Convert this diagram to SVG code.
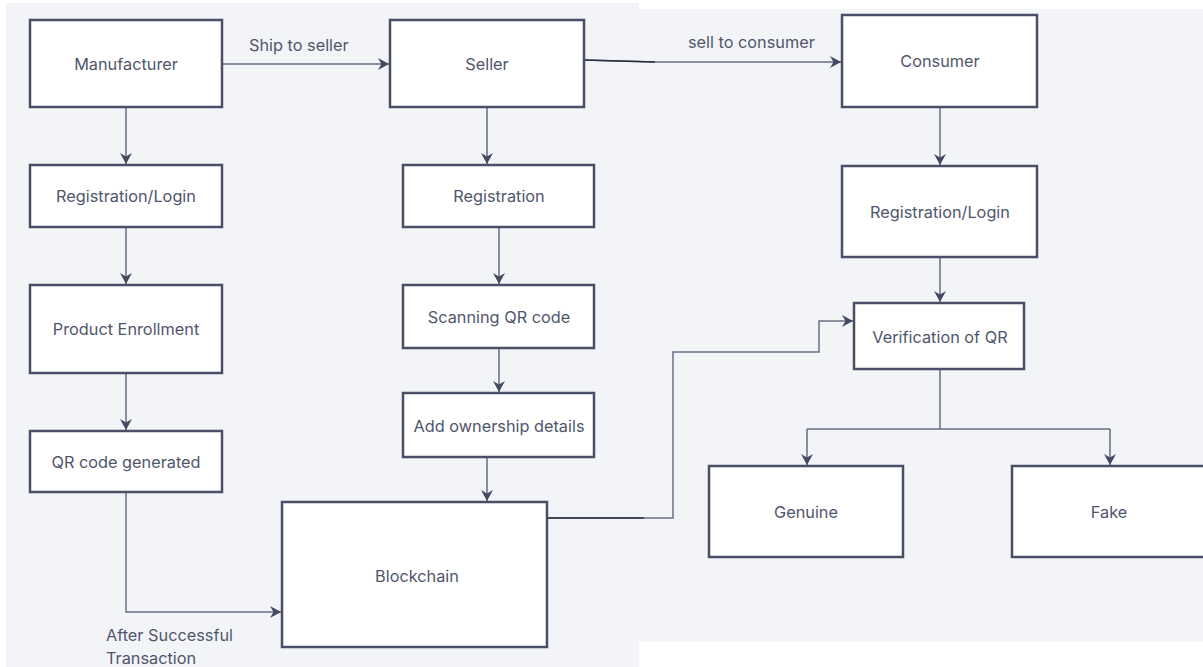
<svg xmlns="http://www.w3.org/2000/svg" width="1203" height="667" viewBox="0 0 1203 667">
<style>
.bg{fill:#f3f4f8}
.box{fill:#fff;stroke:#4a4e66;stroke-width:2.5}
.lbl{font-family:Inter,"Noto Sans",sans-serif;font-size:16.3px;fill:#4f566b;text-anchor:middle;dominant-baseline:central}
.elbl{font-family:Inter,"Noto Sans",sans-serif;font-size:16.3px;fill:#4f566b}
.con{fill:none;stroke:#686d85;stroke-width:1.5}
.dark{fill:none;stroke:#2a2d3a;stroke-width:1.5}
</style>
<defs>
<marker id="ah" markerWidth="14" markerHeight="14" refX="11" refY="6" orient="auto" markerUnits="userSpaceOnUse">
<path d="M0,0 L11,6 L0,12 L3.5,6 Z" fill="#444a62"/>
</marker>
</defs>
<rect width="1203" height="667" fill="#ffffff"/>
<rect class="bg" x="6" y="3" width="633" height="664"/>
<rect class="bg" x="639" y="9" width="564" height="633"/>

<g id="connectors">
<path class="con" d="M222,64 H389" marker-end="url(#ah)"/>
<path class="con" d="M584,60 L655,62 H841" marker-end="url(#ah)"/>
<path class="dark" d="M584,60 L655,62"/>
<path class="con" d="M126,107 V164" marker-end="url(#ah)"/>
<path class="con" d="M126,227 V284" marker-end="url(#ah)"/>
<path class="con" d="M126,373 V430" marker-end="url(#ah)"/>
<path class="con" d="M126,492 V612 H281" marker-end="url(#ah)"/>
<path class="con" d="M487,107 V164" marker-end="url(#ah)"/>
<path class="con" d="M499,227 V284" marker-end="url(#ah)"/>
<path class="con" d="M499,348 V392" marker-end="url(#ah)"/>
<path class="con" d="M487,457 V501" marker-end="url(#ah)"/>
<path class="con" d="M547,518 H673 V352 H819 V321 H853" marker-end="url(#ah)"/>
<path class="dark" d="M547,518 H644"/>
<path class="con" d="M940,107 V165" marker-end="url(#ah)"/>
<path class="con" d="M940,257 V302" marker-end="url(#ah)"/>
<path class="con" d="M940,369 V429"/>
<path class="con" d="M807,429 H1110"/>
<path class="con" d="M807,429 V465" marker-end="url(#ah)"/>
<path class="con" d="M1110,429 V465" marker-end="url(#ah)"/>
<text class="elbl" x="249" y="51">Ship to seller</text>
<text class="elbl" x="688" y="48">sell to consumer</text>
<text class="elbl" x="106" y="641">After Successful</text>
<text class="elbl" x="106" y="664">Transaction</text>
</g>

<g id="manufacturer"><rect class="box" x="30" y="20" width="192" height="87"/><text class="lbl" x="126" y="64">Manufacturer</text></g>
<g id="m-registration"><rect class="box" x="30" y="165" width="192" height="62"/><text class="lbl" x="126" y="196">Registration/Login</text></g>
<g id="product-enrollment"><rect class="box" x="30" y="285" width="192" height="88"/><text class="lbl" x="126" y="329">Product Enrollment</text></g>
<g id="qr-generated"><rect class="box" x="30" y="431" width="192" height="61"/><text class="lbl" x="126" y="462">QR code generated</text></g>

<g id="seller"><rect class="box" x="390" y="20" width="194" height="87"/><text class="lbl" x="487" y="64">Seller</text></g>
<g id="s-registration"><rect class="box" x="403" y="165" width="191" height="62"/><text class="lbl" x="499" y="196">Registration</text></g>
<g id="scanning"><rect class="box" x="403" y="285" width="191" height="63"/><text class="lbl" x="499" y="317">Scanning QR code</text></g>
<g id="ownership"><rect class="box" x="403" y="393" width="191" height="64"/><text class="lbl" x="499" y="426">Add ownership details</text></g>
<g id="blockchain"><rect class="box" x="282" y="502" width="265" height="145"/><text class="lbl" x="417" y="576">Blockchain</text></g>

<g id="consumer"><rect class="box" x="842" y="15" width="195" height="92"/><text class="lbl" x="940" y="61">Consumer</text></g>
<g id="c-registration"><rect class="box" x="842" y="166" width="195" height="91"/><text class="lbl" x="940" y="212">Registration/Login</text></g>
<g id="verification"><rect class="box" x="854" y="303" width="170" height="66"/><text class="lbl" x="940" y="337">Verification of QR</text></g>
<g id="genuine"><rect class="box" x="709" y="466" width="194" height="91"/><text class="lbl" x="806" y="512">Genuine</text></g>
<g id="fake"><rect class="box" x="1012" y="466" width="200" height="91"/><text class="lbl" x="1109" y="512">Fake</text></g>
</svg>
